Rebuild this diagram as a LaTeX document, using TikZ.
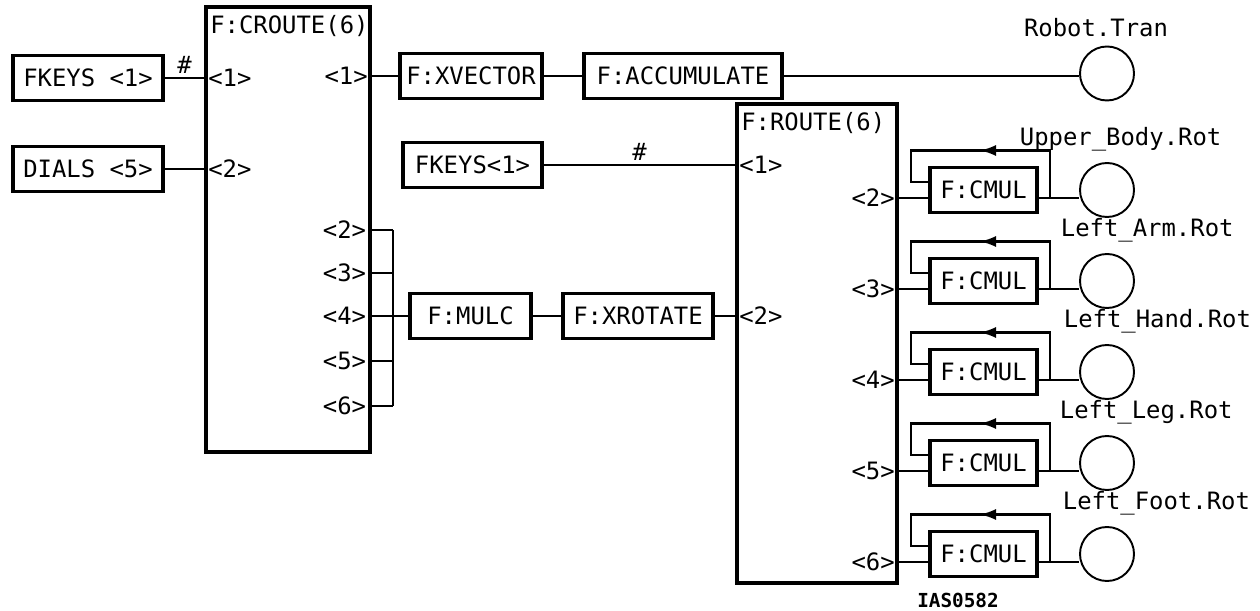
\documentclass[tikz,border=0pt]{standalone}
\usepackage{fontspec}
\setmonofont{DejaVu Sans Mono}
\usetikzlibrary{arrows.meta,calc,decorations.markings,positioning}

\newcommand\dgfont{\fontsize{13.6}{16}\selectfont\ttfamily}

\tikzset{
  fbox/.style={draw,line width=2pt,minimum height=0.9cm,inner sep=2pt,font=\dgfont},
  routebox/.style={draw,line width=1.8pt},
  wire/.style={line width=1.2pt},
  port/.style={inner sep=2pt,font=\dgfont},
  title/.style={port,anchor=north west,xshift=0.04cm,yshift=-0.12cm},
  var/.style={draw,line width=1.1pt,circle,minimum size=1.08cm,inner sep=0pt},
  fback/.style={wire,postaction={decorate},
    decoration={markings,mark=at position 0.5 with {\arrow{Latex[length=3.2mm,width=2.2mm]}}}},
}

\begin{document}
\begin{tikzpicture}[>=Latex]
  \useasboundingbox (0,0) rectangle (25.2,-12.22);
  % inputs and the CROUTE box
  \node[fbox,minimum width=3.0cm] (fkeysa) at (1.76,-1.56) {FKEYS <1>};
  \node[fbox,minimum width=3.0cm] (dials) at (1.76,-3.38) {DIALS <5>};
  \node[routebox,minimum width=3.28cm,minimum height=8.9cm] (croute) at (5.76,-4.59) {};
  \node[title] at (croute.north west) {F:CROUTE(6)};
  \draw[wire] (fkeysa.east) -- (fkeysa.east -| croute.west) node[port,midway,above] {\#};
  \draw[wire] (dials.east) -- (dials.east -| croute.west);
  \node[port,anchor=west] at (fkeysa.east -| croute.west) {<1>};
  \node[port,anchor=west] at (dials.east -| croute.west) {<2>};
  % CROUTE outputs
  \coordinate (co1) at (croute.east |- 0,-1.52);
  \node[port,anchor=east] at (co1) {<1>};
  \foreach \i/\y in {2/-4.60,3/-5.46,4/-6.32,5/-7.22,6/-8.12} {
    \coordinate (co\i) at (7.40,\y);
    \node[port,anchor=east] at (co\i) {<\i>};
    \draw[wire] (co\i) -- ++(0.46,0) coordinate (cb\i);
  }
  \draw[wire] (cb2) -- (cb6);
  % translation path
  \node[fbox,minimum width=2.84cm] (xvec) at (9.42,-1.52) {F:XVECTOR};
  \node[fbox,minimum width=3.96cm] (accum) at (13.66,-1.52) {F:ACCUMULATE};
  \node[var] (tran) at (22.14,-1.47) {};
  \node[port] (trantxt) at (21.92,-0.56) {Robot.Tran};
  \draw[wire] (co1) -- (xvec.west);
  \draw[wire] (xvec) -- (accum);
  \draw[wire] (accum.east) -- (accum.east -| tran.west);
  % ROUTE box
  \node[fbox,minimum width=2.78cm] (fkeysb) at (9.45,-3.30) {FKEYS<1>};
  \node[routebox,minimum width=3.2cm,minimum height=9.58cm] (route) at (16.34,-6.87) {};
  \node[title] at (route.north west) {F:ROUTE(6)};
  \draw[wire] (fkeysb.east) -- (fkeysb.east -| route.west) node[port,midway,above] {\#};
  \node[port,anchor=west] at (fkeysb.east -| route.west) {<1>};
  % rotation path
  \node[fbox,minimum width=2.42cm] (mulc) at (9.41,-6.32) {F:MULC};
  \node[fbox,minimum width=3.0cm] (xrot) at (12.76,-6.32) {F:XROTATE};
  \draw[wire] (co4) -- (mulc.west);
  \draw[wire] (mulc) -- (xrot);
  \draw[wire] (xrot.east) -- (xrot.east -| route.west);
  \node[port,anchor=west] at (xrot.east -| route.west) {<2>};
  % ROUTE outputs with CMUL feedback
  \foreach \i/\y/\nm/\lx in {2/-3.96/Upper\_Body.Rot/20.32,3/-5.78/Left\_Arm.Rot/21.14,
      4/-7.60/Left\_Hand.Rot/21.20,5/-9.42/Left\_Leg.Rot/21.12,6/-11.24/Left\_Foot.Rot/21.18} {
    \coordinate (ro\i) at (route.east |- 0,\y);
    \node[port,anchor=east] at (ro\i) {<\i>};
    \node[fbox,minimum width=2.14cm] (cmul\i) at (19.67,\y+0.16) {F:CMUL};
    \node[var] (rot\i) at (22.14,\y+0.16) {};
    \node[port,anchor=west] (rtxt\i) at (\lx,\y+1.18) {\nm};
    \draw[wire] (ro\i) -- (ro\i -| cmul\i.west);
    \draw[wire] (ro\i -| cmul\i.east) -- (ro\i -| rot\i.west);
    \draw[fback] ($(cmul\i.east |- ro\i)+(0.22,0)$) |- ($(cmul\i.west)+(-0.34,0.79)$)
      |- ($(cmul\i.west)+(0,0.16)$);
  }
  \node[font=\fontsize{11}{13}\selectfont\ttfamily\bfseries] (tag) at (19.16,-12.00) {IAS0582};
\end{tikzpicture}
\end{document}
